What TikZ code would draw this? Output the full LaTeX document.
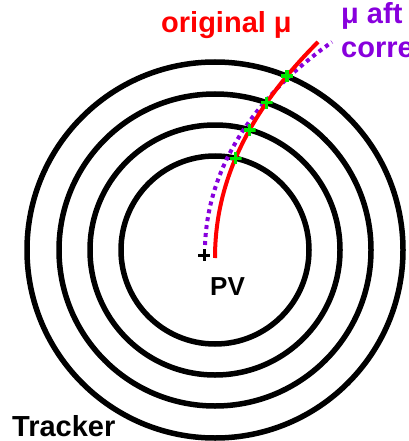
\documentclass[tikz,border=0pt]{standalone}
\usepackage{fontspec}
\setmainfont{Liberation Sans}
\usetikzlibrary{intersections}
\definecolor{mured}{RGB}{255,0,0}
\definecolor{muviolet}{RGB}{136,0,221}
\definecolor{hitgreen}{RGB}{0,232,0}

\begin{document}
\begin{tikzpicture}[x=1pt, y=-1pt,
  every node/.style={font=\bfseries, inner sep=0pt},
  layer/.style={line width=5.5pt, black},
  bigtxt/.style={font=\bfseries\fontsize{29}{34}\selectfont},
  pvmark/.style={minimum size=12pt, path picture={
    \draw[black, line width=3pt]
      (path picture bounding box.north) -- (path picture bounding box.south)
      (path picture bounding box.west) -- (path picture bounding box.east);}},
  hit/.style={minimum size=12pt, path picture={
    \draw[hitgreen, line width=3.5pt]
      (path picture bounding box.north) -- (path picture bounding box.south)
      (path picture bounding box.west) -- (path picture bounding box.east);}}]
\useasboundingbox (0,0) rectangle (408,441);
%
% ---- Tracker layers ----
\coordinate (ctr) at (215,250);
\draw[layer, name path=layer1] (ctr) circle[radius=94pt];
\draw[layer, name path=layer2] (ctr) circle[radius=125pt];
\draw[layer, name path=layer3] (ctr) circle[radius=156pt];
\draw[layer, name path=layer4] (ctr) circle[radius=188pt];
%
% ---- Vertex and tracks ----
\node[pvmark] (pv) at (204,255) {};
\coordinate (muA) at (215,258);
\coordinate (muB) at (318,42);
\coordinate (corrA) at (205,245);
\coordinate (corrB) at (332,42);
\draw[muviolet, line width=4pt, dash pattern=on 4pt off 4pt]
  (corrA) .. controls (208,170) and (250,100) .. (corrB);
\draw[mured, line width=4pt, name path=mu]
  (muA) .. controls (215,180) and (250,110) .. (muB);
%
% ---- Hits ----
\path[name intersections={of=mu and layer1, by=h1}];
\path[name intersections={of=mu and layer2, by=h2}];
\path[name intersections={of=mu and layer3, by=h3}];
\path[name intersections={of=mu and layer4, by=h4}];
\node[hit] (hit1) at (h1) {};
\node[hit] (hit2) at (h2) {};
\node[hit] (hit3) at (h3) {};
\node[hit] (hit4) at (h4) {};
%
% ---- Labels ----
\node[bigtxt, text=mured, anchor=base west] (orig) at (161,33) {original μ};
\node[bigtxt, text=muviolet, anchor=base west, align=left] (corr)
  at (341,58) {μ aft\\corre};
\node[font=\bfseries\fontsize{26}{30}\selectfont, anchor=base west]
  (pvlabel) at (210,295) {PV};
\node[bigtxt, anchor=base west] (tracker) at (12,436) {Tracker};
\end{tikzpicture}
\end{document}
